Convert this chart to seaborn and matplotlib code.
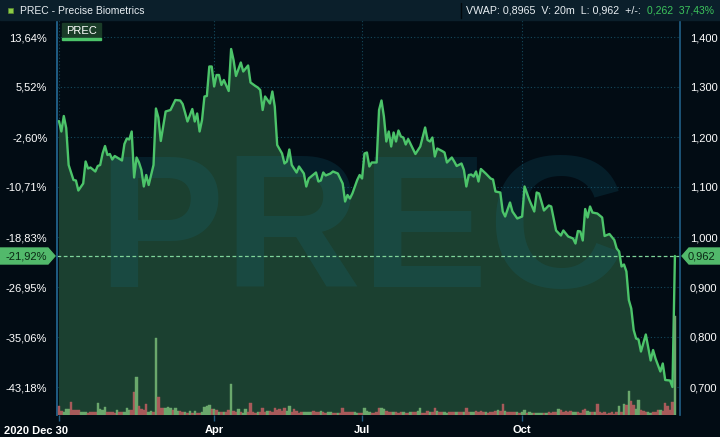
import pandas as pd
import matplotlib
matplotlib.use("Agg")
import matplotlib.pyplot as plt
import matplotlib.transforms as mtransforms
from matplotlib.patches import Rectangle, Polygon
from matplotlib.ticker import FuncFormatter
import seaborn as sns

# Stockholm trading days, 2020-12-30 .. 2021-12-30
holidays = ["2021-01-01", "2021-01-06", "2021-04-02", "2021-04-05",
            "2021-05-13", "2021-06-25", "2021-12-24", "2021-12-31"]
dates = pd.bdate_range("2020-12-30", "2021-12-30", freq="C", holidays=holidays)

# closing price (trading-day index, SEK)
price_day = [0, 1, 2, 3, 4, 6, 7, 8, 10, 11, 12, 13, 15, 16, 17, 18, 19, 20, 21, 22,
             23, 24, 26, 27, 28, 29, 30, 31, 32, 33, 34, 35, 36, 37, 39, 40, 41, 42, 44, 46,
             48, 50, 51, 52, 53, 55, 56, 57, 58, 59, 60, 61, 62, 63, 64, 65, 66, 67, 68, 70,
             71, 72, 73, 75, 76, 78, 79, 81, 82, 83, 84, 85, 87, 88, 89, 90, 92, 93, 94, 95,
             96, 98, 99, 101, 102, 103, 106, 107, 108, 109, 110, 112, 113, 115, 117, 118, 119, 120, 121, 123,
             124, 125, 126, 127, 128, 129, 131, 132, 133, 134, 135, 136, 137, 138, 139, 140, 141, 142, 143, 144,
             145, 147, 149, 151, 152, 153, 154, 155, 156, 158, 159, 160, 162, 163, 164, 166, 167, 168, 169, 170,
             171, 172, 173, 174, 176, 178, 179, 180, 182, 183, 184, 186, 187, 189, 191, 192, 194, 196, 197, 198,
             200, 202, 203, 205, 207, 208, 210, 212, 213, 214, 215, 216, 217, 218, 219, 220, 222, 224, 225, 227,
             229, 230, 231, 232, 233, 234, 235, 236, 237, 238, 239, 240, 242, 244, 245, 246, 248, 249, 250, 252,
             253, 254]
price = [1.232, 1.211, 1.242, 1.218, 1.144, 1.114, 1.113, 1.093, 1.107, 1.151, 1.137, 1.139, 1.131, 1.142, 1.144, 1.167, 1.182, 1.164, 1.166, 1.155,
         1.162, 1.159, 1.153, 1.186, 1.197, 1.195, 1.211, 1.119, 1.159, 1.149, 1.134, 1.101, 1.124, 1.104, 1.144, 1.257, 1.239, 1.192, 1.251, 1.254,
         1.274, 1.273, 1.266, 1.249, 1.231, 1.256, 1.231, 1.247, 1.211, 1.234, 1.281, 1.282, 1.341, 1.341, 1.301, 1.324, 1.324, 1.304, 1.314, 1.292,
         1.376, 1.354, 1.322, 1.349, 1.331, 1.343, 1.309, 1.302, 1.299, 1.294, 1.254, 1.281, 1.267, 1.291, 1.261, 1.184, 1.167, 1.147, 1.151, 1.175,
         1.144, 1.129, 1.141, 1.127, 1.101, 1.117, 1.129, 1.111, 1.113, 1.129, 1.123, 1.127, 1.131, 1.127, 1.107, 1.071, 1.084, 1.077, 1.087, 1.114,
         1.124, 1.117, 1.167, 1.169, 1.141, 1.149, 1.149, 1.254, 1.273, 1.241, 1.191, 1.211, 1.181, 1.209, 1.191, 1.213, 1.201, 1.199, 1.185, 1.196,
         1.186, 1.166, 1.181, 1.219, 1.194, 1.191, 1.199, 1.161, 1.177, 1.172, 1.169, 1.149, 1.159, 1.151, 1.142, 1.147, 1.134, 1.101, 1.124, 1.125,
         1.121, 1.131, 1.111, 1.136, 1.127, 1.117, 1.115, 1.091, 1.089, 1.051, 1.041, 1.069, 1.051, 1.037, 1.041, 1.101, 1.074, 1.051, 1.089, 1.087,
         1.053, 1.063, 1.061, 1.013, 1.003, 1.013, 1.001, 0.997, 0.987, 1.012, 1.011, 0.993, 1.056, 1.039, 1.061, 1.049, 1.047, 1.039, 1.002, 1.006,
         0.994, 0.977, 0.971, 0.941, 0.945, 0.931, 0.874, 0.857, 0.814, 0.797, 0.795, 0.771, 0.805, 0.753, 0.774, 0.757, 0.731, 0.747, 0.714, 0.713,
         0.700, 0.962]

# daily volume in millions of shares, one value per trading day
volume = [1.8, 0.8, 0.54, 1.14, 1.14, 2.54, 0.94, 0.94, 0.94, 0.66,
          0.54, 0.54, 0.4, 0.66, 0.54, 0.54, 2.34, 1.14, 1.0, 1.54,
          0.66, 0.54, 0.54, 0.4, 0.94, 0.54, 0.54, 0.66, 1.34, 1.0,
          1.06, 4.54, 7.54, 1.74, 1.14, 1.0, 2.14, 0.54, 0.8, 0.66,
          15.34, 3.54, 1.46, 1.34, 1.34, 1.54, 1.34, 1.0, 1.34, 0.8,
          0.8, 0.54, 0.54, 0.4, 0.8, 0.4, 0.8, 0.4, 0.4, 0.54,
          1.6, 1.8, 2.0, 1.14, 1.14, 0.94, 0.66, 0.54, 0.54, 0.66,
          1.0, 6.14, 0.8, 0.54, 1.2, 0.66, 0.4, 1.2, 0.54, 2.34,
          0.66, 0.4, 0.54, 0.66, 1.34, 0.54, 0.8, 0.8, 0.54, 1.34,
          1.0, 1.2, 0.8, 1.34, 0.8, 1.86, 0.54, 1.14, 0.8, 0.34,
          0.54, 0.54, 0.54, 0.54, 0.54, 0.8, 0.54, 0.54, 0.8, 0.54,
          0.34, 0.66, 0.54, 0.4, 0.4, 0.4, 0.4, 1.34, 0.66, 0.54,
          0.54, 0.54, 0.54, 0.4, 0.4, 0.34, 1.34, 0.8, 0.54, 0.4,
          0.4, 0.54, 1.34, 1.46, 1.14, 0.8, 0.54, 0.54, 0.54, 0.54,
          0.4, 0.54, 0.66, 0.4, 0.4, 0.54, 0.66, 0.54, 0.8, 1.34,
          0.4, 0.4, 0.8, 0.54, 0.54, 1.34, 0.8, 0.66, 0.54, 0.66,
          0.4, 0.66, 0.54, 0.54, 0.54, 0.66, 0.54, 0.54, 1.34, 0.66,
          0.54, 0.66, 0.8, 0.54, 0.8, 0.66, 0.66, 0.4, 0.54, 0.54,
          0.8, 1.0, 0.8, 2.14, 0.8, 0.54, 0.54, 0.66, 0.54, 0.66,
          0.4, 0.54, 1.0, 0.4, 0.54, 0.4, 0.4, 0.34, 0.4, 0.4,
          0.34, 0.4, 0.54, 0.4, 0.54, 0.66, 1.14, 1.0, 0.66, 0.8,
          0.66, 0.8, 0.66, 0.54, 0.54, 0.4, 1.0, 1.14, 0.8, 0.66,
          0.54, 0.66, 2.14, 0.54, 0.4, 0.54, 0.2, 0.4, 0.54, 0.2,
          0.66, 1.74, 0.66, 2.2, 2.0, 4.8, 2.8, 2.0, 1.2, 3.0,
          1.06, 0.86, 0.54, 0.54, 0.4, 0.54, 0.66, 0.94, 1.0, 0.8,
          2.4, 1.86, 1.06, 2.54, 19.74]
# u = closed up, d = closed down
vol_dir = ("dduuudddduuudddduuuu" "ddddudduuuddudddduud"
           "uddduuuduuddudududdu" "uuududududdudduduudd"
           "dduddduddddddduudddd" "duuuudddudduuddudddd"
           "dduudduuudddduudddud" "dduddudduuddduddudduu"
           "ddduddudduu" "dddduddddudduddddu"
           "duuduuduuudu" "ddddudddd" "duudddduud"
           "uddddddddd" "udududduudd" "duuddduddddd"
           "udddddudu" "dddddduud" "dd")

price_ticks = [0.7, 0.8, 0.9, 1.0, 1.1, 1.2, 1.3, 1.4]
month_labels = ["Apr", "Jul", "Oct"]
month_starts = ["2021-04-01", "2021-07-01", "2021-10-01"]

BG = "#020c14"
HEADER = "#0b1f2b"
FILL = "#1b4030"
LINE = "#4cc46a"
UP = "#6aa86c"
DOWN = "#a85a5a"
GRID = "#14495c"
SPINE = "#1f5c82"
TAG = "#52b96b"
W, H = 720, 437

sns.set_theme(style="dark", rc={"axes.facecolor": BG, "figure.facecolor": BG})
plt.rcParams["font.family"] = ["Liberation Sans", "DejaVu Sans"]

n = len(dates)
dirs = (list(vol_dir) + ["d"] * n)[:n]
vols = (volume + [0.4] * n)[:n]
bar_colors = [UP if d == "u" else DOWN for d in dirs]
last = price[-1]
base = price[0]

fig = plt.figure(figsize=(W / 100, H / 100), dpi=100)
ax = fig.add_axes([57 / W, 22 / H, 623 / W, 395 / H])

ax.fill_between(price_day, price, 0, color=FILL, lw=0, zorder=1)
ax.text(0.488, 0.324, "PREC", transform=ax.transAxes, ha="center", va="baseline",
        fontsize=137, fontweight="bold", color=(20 / 255, 120 / 255, 150 / 255),
        alpha=0.17, zorder=1.5)
ax.axhline(last, color="#7fd49a", lw=0.9, ls=(0, (3, 2)), zorder=2.5)
sns.lineplot(x=price_day, y=price, color=LINE, lw=1.7, ax=ax, zorder=3)

ax_v = ax.twinx()
ax_v.bar(range(n), vols, width=1.0, color=bar_colors, edgecolor=bar_colors, linewidth=0.3)
ax_v.set_ylim(0, 79)
ax_v.set_axis_off()

tick_days = [0] + [int(dates.searchsorted(pd.Timestamp(m))) for m in month_starts]
ax.set_xlim(-0.8, 256.1)
ax.set_ylim(0.644, 1.434)
ax.set_xticks(tick_days)
ax.set_xticklabels([""] + month_labels, color="white", fontsize=8, fontweight="bold")
ax.tick_params(axis="x", length=4, width=1, color=SPINE, pad=3, direction="out", bottom=True)
ax.set_xlabel("")
ax.set_ylabel("")

ax.yaxis.tick_right()
ax.set_yticks(price_ticks)
ax.yaxis.set_major_formatter(FuncFormatter(lambda v, _: f"{v:.3f}".replace(".", ",")))
ax.tick_params(axis="y", length=0, pad=7, labelsize=8, labelcolor="white")

sec = ax.secondary_yaxis("left", functions=(lambda p: (p / base - 1) * 100,
                                            lambda v: base * (1 + v / 100)))
sec.set_yticks([(t / base - 1) * 100 for t in price_ticks])
sec.yaxis.set_major_formatter(FuncFormatter(lambda v, _: f"{v:.2f}%".replace(".", ",")))
sec.tick_params(axis="y", length=0, pad=7, labelsize=8, labelcolor="white")
sec.spines["left"].set_color(SPINE)

ax.grid(True, color=GRID, ls=(0, (1, 2)), lw=0.8)
for side in ["top", "bottom"]:
    ax.spines[side].set_visible(False)
ax.spines["left"].set_color(SPINE)
ax.spines["right"].set_color(SPINE)

# header bar
fig.patches.append(Rectangle((0, 1 - 20 / H), 1, 20 / H, transform=fig.transFigure,
                             color=HEADER, zorder=0))
fig.patches.append(Rectangle((8 / W, 1 - 13 / H), 5 / W, 5 / H, transform=fig.transFigure,
                             facecolor="#8ccc46", edgecolor="#5a8a30", lw=0.5))
fig.text(20 / W, 1 - 10.5 / H, "PREC - Precise Biometrics", color="#e8eef2",
         fontsize=7.5, va="center", ha="left")
fig.add_artist(plt.Line2D([461 / W, 461 / W], [1 - 3 / H, 1 - 18 / H], color="#02080c", lw=1))
fig.text(466 / W, 1 - 10.5 / H, "VWAP: 0,8965  V: 20m  L: 0,962  +/-:", color="#e8eef2",
         fontsize=7.7, va="center", ha="left")
fig.text(714 / W, 1 - 10.5 / H, "0,262  37,43%", color="#3cc45c",
         fontsize=7.5, va="center", ha="right")

# series label
fig.patches.append(Rectangle((62 / W, 1 - 38 / H), 39 / W, 15 / H, transform=fig.transFigure,
                             color="#1a3c28"))
fig.patches.append(Rectangle((62 / W, 1 - 39.5 / H), 39 / W, 1.8 / H, transform=fig.transFigure,
                             color=LINE))
fig.text(81.5 / W, 1 - 31 / H, "PREC", color="white", fontsize=8, ha="center", va="center")

# first date label
fig.text(4 / W, 1 - 431 / H, "2020 Dec 30", color="white", fontsize=8, fontweight="bold",
         ha="left", va="center")

# last price tags on both axes
trans = mtransforms.blended_transform_factory(fig.transFigure, ax.transData)
hh = 0.016
fig.add_artist(Polygon([(0, last - hh), (48 / W, last - hh), (55 / W, last),
                        (48 / W, last + hh), (0, last + hh)], closed=True,
                       transform=trans, color=TAG, clip_on=False))
fig.add_artist(Polygon([(682 / W, last), (689 / W, last - hh), (1, last - hh),
                        (1, last + hh), (689 / W, last + hh)], closed=True,
                       transform=trans, color=TAG, clip_on=False))
fig.text(26 / W, last, f"{(last / base - 1) * 100:.2f}%".replace(".", ","), transform=trans,
         color="#0a2814", fontsize=8, ha="center", va="center")
fig.text(702 / W, last, f"{last:.3f}".replace(".", ","), transform=trans,
         color="#0a2814", fontsize=8, ha="center", va="center")

fig.savefig("out.png", dpi=100, facecolor=BG)
